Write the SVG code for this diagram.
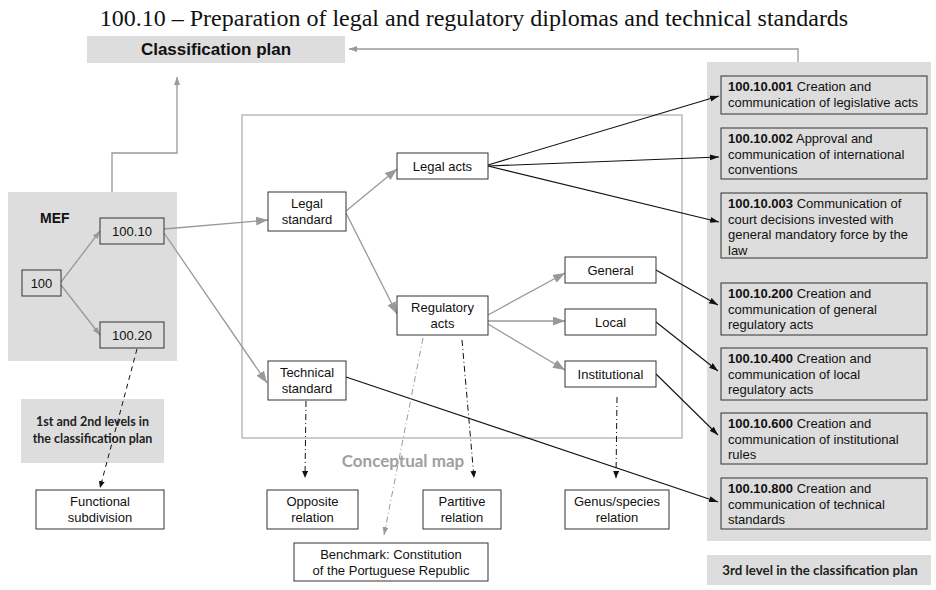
<svg xmlns="http://www.w3.org/2000/svg" width="936" height="590" viewBox="0 0 936 590">
  <style>
    .title { font-family: "Liberation Serif", "Times New Roman", serif; font-size: 24px; fill: #111; }
    .panel { fill: #dddddd; }
    .frame { fill: none; stroke: #bbbbbb; stroke-width: 1.5; }
    .box { fill: #ffffff; stroke: #333333; stroke-width: 1; }
    .pbox { fill: none; stroke: #333333; stroke-width: 1; }
    .t { font-family: "Liberation Sans", Arial, sans-serif; font-size: 13px; fill: #111; }
    .c { text-anchor: middle; }
    .b { font-weight: bold; }
    .lab { font-family: "Lato", "Open Sans", sans-serif; font-weight: bold; }
    .g { fill: none; stroke: #999999; stroke-width: 1.3; }
    .k { fill: none; stroke: #111111; stroke-width: 1.1; }
    .dd { fill: none; stroke: #111111; stroke-width: 1; stroke-dasharray: 6 3 1 3; }
    .ddg { fill: none; stroke: #999999; stroke-width: 1; stroke-dasharray: 6 3 1 3; }
    .ds { fill: none; stroke: #111111; stroke-width: 1; stroke-dasharray: 5 4; }
  </style>
  <defs>
    <marker id="arrG" markerUnits="userSpaceOnUse" markerWidth="13" markerHeight="10" refX="12" refY="4.5" orient="auto">
      <path d="M0,0 L12,4.5 L0,9 z" fill="#999999"/>
    </marker>
    <marker id="arrGs" markerUnits="userSpaceOnUse" markerWidth="9" markerHeight="7" refX="8" refY="3" orient="auto">
      <path d="M0,0 L8,3 L0,6 z" fill="#999999"/>
    </marker>
    <marker id="arrK" markerUnits="userSpaceOnUse" markerWidth="10" markerHeight="7" refX="9" refY="3" orient="auto">
      <path d="M0,0 L9,3 L0,6 z" fill="#111111"/>
    </marker>
    <marker id="arrKs" markerUnits="userSpaceOnUse" markerWidth="8" markerHeight="7" refX="7" refY="3" orient="auto">
      <path d="M0,0 L7,3 L0,6 z" fill="#111111"/>
    </marker>
  </defs>

  <!-- heading -->
  <text class="title c" x="474" y="26">100.10 – Preparation of legal and regulatory diplomas and technical standards</text>

  <!-- shaded areas -->
  <g id="classification-plan">
    <rect class="panel" x="87" y="36" width="258" height="27"/>
    <text class="t b c" x="216" y="55" style="font-size:17px">Classification plan</text>
  </g>
  <rect id="mef-panel" class="panel" x="8" y="192" width="169" height="169"/>
  <rect id="level3-panel" class="panel" x="707" y="62" width="224" height="479"/>
  <g id="levels-1-2">
    <rect class="panel" x="21" y="399" width="143" height="64"/>
    <text class="lab c" x="92.5" y="426" style="font-size:12.5px" fill="#222">1st and 2nd levels in</text>
    <text class="lab c" x="92.5" y="443" style="font-size:12.5px" fill="#222">the classification plan</text>
  </g>
  <g id="level-3">
    <rect class="panel" x="707" y="555" width="224" height="30"/>
    <text class="lab c" x="820" y="575" style="font-size:13.3px" fill="#222">3rd level in the classification plan</text>
  </g>

  <!-- conceptual map frame -->
  <g id="conceptual-map">
    <rect class="frame" x="242" y="115" width="440" height="323"/>
    <text class="lab c" x="403" y="467" style="font-size:17px" fill="#a0a0a0">Conceptual map</text>
  </g>

  <!-- connectors -->
  <g id="connectors">
    <polyline class="g" points="112,192 112,153 177,153 177,77" marker-end="url(#arrGs)"/>
    <polyline class="g" points="798,62 798,49 349,49" marker-end="url(#arrGs)"/>
    <line class="g" x1="61" y1="282" x2="100" y2="231" marker-end="url(#arrGs)"/>
    <line class="g" x1="61" y1="285" x2="100" y2="335" marker-end="url(#arrGs)"/>
    <line class="g" x1="164" y1="229" x2="268" y2="220" marker-end="url(#arrG)"/>
    <line class="g" x1="164" y1="233" x2="267" y2="383" marker-end="url(#arrG)"/>
    <line class="g" x1="346" y1="211" x2="397" y2="169" marker-end="url(#arrG)"/>
    <line class="g" x1="346" y1="213" x2="397" y2="314" marker-end="url(#arrG)"/>
    <line class="g" x1="488" y1="315" x2="565" y2="273" marker-end="url(#arrG)"/>
    <line class="g" x1="488" y1="321" x2="565" y2="321" marker-end="url(#arrG)"/>
    <line class="g" x1="488" y1="324" x2="565" y2="370" marker-end="url(#arrG)"/>

    <line class="k" x1="488" y1="165" x2="719" y2="96" marker-end="url(#arrK)"/>
    <line class="k" x1="488" y1="166" x2="719" y2="157" marker-end="url(#arrK)"/>
    <line class="k" x1="488" y1="166" x2="719" y2="222" marker-end="url(#arrK)"/>
    <line class="k" x1="656" y1="270" x2="718" y2="305" marker-end="url(#arrK)"/>
    <line class="k" x1="656" y1="322" x2="718" y2="371" marker-end="url(#arrK)"/>
    <line class="k" x1="656" y1="374" x2="718" y2="435" marker-end="url(#arrK)"/>
    <line class="k" x1="346" y1="377" x2="718" y2="502" marker-end="url(#arrK)"/>

    <line class="ds" x1="137" y1="349" x2="100" y2="488" marker-end="url(#arrKs)"/>
    <line class="dd" x1="306" y1="401" x2="305" y2="478" marker-end="url(#arrKs)"/>
    <line class="dd" x1="462" y1="340" x2="474" y2="478" marker-end="url(#arrKs)"/>
    <line class="ddg" x1="423" y1="338" x2="384" y2="535" marker-end="url(#arrGs)"/>
    <line class="dd" x1="617" y1="397" x2="616" y2="478" marker-end="url(#arrKs)"/>
  </g>

  <!-- MEF hierarchy -->
  <g id="mef-label"><text class="t b" x="40" y="223" style="font-size:14px">MEF</text></g>
  <g id="n100">
    <rect class="pbox" x="22" y="270" width="39" height="26"/>
    <text class="t c" x="41.5" y="288">100</text>
  </g>
  <g id="n100-10">
    <rect class="pbox" x="100" y="218" width="64" height="26"/>
    <text class="t c" x="132" y="236">100.10</text>
  </g>
  <g id="n100-20">
    <rect class="pbox" x="100" y="322" width="64" height="26"/>
    <text class="t c" x="132" y="340">100.20</text>
  </g>

  <!-- concept nodes -->
  <g id="legal-standard">
    <rect class="box" x="268" y="192" width="78" height="39"/>
    <text class="t c" x="307" y="208">Legal</text>
    <text class="t c" x="307" y="224">standard</text>
  </g>
  <g id="technical-standard">
    <rect class="box" x="268" y="361" width="78" height="39"/>
    <text class="t c" x="307" y="377">Technical</text>
    <text class="t c" x="307" y="393">standard</text>
  </g>
  <g id="legal-acts">
    <rect class="box" x="397" y="153" width="91" height="26"/>
    <text class="t c" x="442.5" y="170.5">Legal acts</text>
  </g>
  <g id="regulatory-acts">
    <rect class="box" x="397" y="296" width="91" height="39"/>
    <text class="t c" x="442.5" y="312">Regulatory</text>
    <text class="t c" x="442.5" y="328">acts</text>
  </g>
  <g id="general">
    <rect class="box" x="565" y="257" width="91" height="26"/>
    <text class="t c" x="610.5" y="274.5">General</text>
  </g>
  <g id="local">
    <rect class="box" x="565" y="309" width="91" height="26"/>
    <text class="t c" x="610.5" y="326.5">Local</text>
  </g>
  <g id="institutional">
    <rect class="box" x="565" y="361" width="91" height="26"/>
    <text class="t c" x="610.5" y="378.5">Institutional</text>
  </g>

  <!-- relation nodes -->
  <g id="functional-subdivision">
    <rect class="box" x="36" y="490" width="128" height="39"/>
    <text class="t c" x="100" y="506">Functional</text>
    <text class="t c" x="100" y="522">subdivision</text>
  </g>
  <g id="opposite-relation">
    <rect class="box" x="267" y="490" width="91" height="39"/>
    <text class="t c" x="312.5" y="506">Opposite</text>
    <text class="t c" x="312.5" y="522">relation</text>
  </g>
  <g id="partitive-relation">
    <rect class="box" x="423" y="490" width="78" height="39"/>
    <text class="t c" x="462" y="506">Partitive</text>
    <text class="t c" x="462" y="522">relation</text>
  </g>
  <g id="genus-species-relation">
    <rect class="box" x="565" y="490" width="104" height="39"/>
    <text class="t c" x="617" y="506">Genus/species</text>
    <text class="t c" x="617" y="522">relation</text>
  </g>
  <g id="benchmark">
    <rect class="box" x="294" y="543" width="194" height="38"/>
    <text class="t c" x="391" y="559">Benchmark: Constitution</text>
    <text class="t c" x="391" y="575">of the Portuguese Republic</text>
  </g>

  <!-- third-level classes -->
  <g id="c100-10-001">
    <rect class="pbox" x="721" y="76" width="206" height="38"/>
    <text class="t" x="728" y="91"><tspan class="b">100.10.001</tspan> Creation and</text>
    <text class="t" x="728" y="106.5">communication of legislative acts</text>
  </g>
  <g id="c100-10-002">
    <rect class="pbox" x="721" y="128" width="206" height="51"/>
    <text class="t" x="728" y="143"><tspan class="b">100.10.002</tspan> Approval and</text>
    <text class="t" x="728" y="158.5">communication of international</text>
    <text class="t" x="728" y="174">conventions</text>
  </g>
  <g id="c100-10-003">
    <rect class="pbox" x="721" y="193" width="206" height="65"/>
    <text class="t" x="728" y="208"><tspan class="b">100.10.003</tspan> Communication of</text>
    <text class="t" x="728" y="223.5">court decisions invested with</text>
    <text class="t" x="728" y="239">general mandatory force by the</text>
    <text class="t" x="728" y="254.5">law</text>
  </g>
  <g id="c100-10-200">
    <rect class="pbox" x="721" y="283" width="206" height="52"/>
    <text class="t" x="728" y="298"><tspan class="b">100.10.200</tspan> Creation and</text>
    <text class="t" x="728" y="313.5">communication of general</text>
    <text class="t" x="728" y="329">regulatory acts</text>
  </g>
  <g id="c100-10-400">
    <rect class="pbox" x="721" y="348" width="206" height="52"/>
    <text class="t" x="728" y="363"><tspan class="b">100.10.400</tspan> Creation and</text>
    <text class="t" x="728" y="378.5">communication of local</text>
    <text class="t" x="728" y="394">regulatory acts</text>
  </g>
  <g id="c100-10-600">
    <rect class="pbox" x="721" y="413" width="206" height="51"/>
    <text class="t" x="728" y="428"><tspan class="b">100.10.600</tspan> Creation and</text>
    <text class="t" x="728" y="443.5">communication of institutional</text>
    <text class="t" x="728" y="459">rules</text>
  </g>
  <g id="c100-10-800">
    <rect class="pbox" x="721" y="478" width="206" height="51"/>
    <text class="t" x="728" y="493"><tspan class="b">100.10.800</tspan> Creation and</text>
    <text class="t" x="728" y="508.5">communication of technical</text>
    <text class="t" x="728" y="524">standards</text>
  </g>
</svg>
